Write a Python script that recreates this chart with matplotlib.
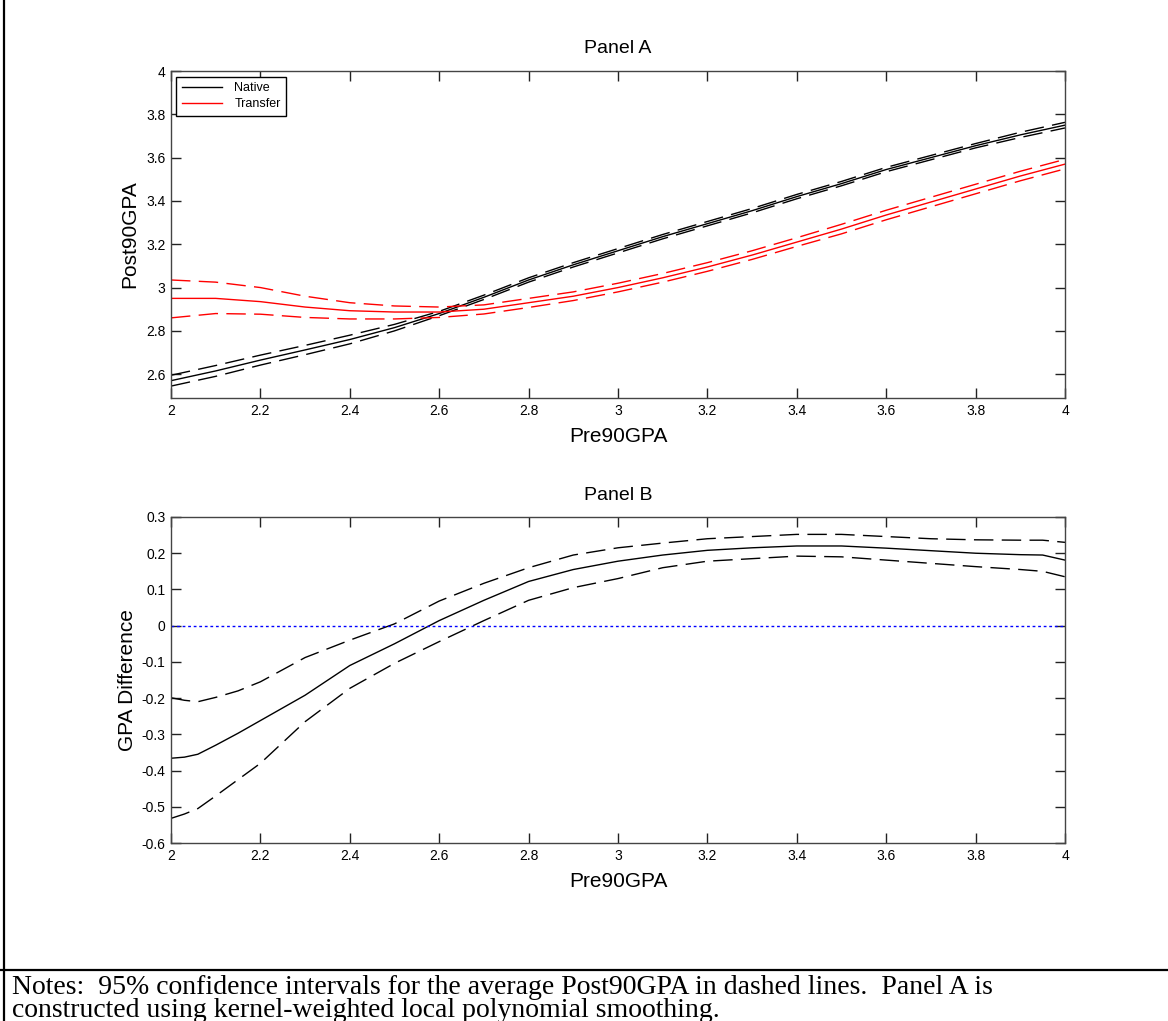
import matplotlib
matplotlib.use("Agg")
import matplotlib.pyplot as plt
from matplotlib.lines import Line2D

# ---------------- data ----------------
xa = [2.0, 2.1, 2.2, 2.3, 2.4, 2.5, 2.6, 2.7, 2.8, 2.9, 3.0,
      3.1, 3.2, 3.3, 3.4, 3.5, 3.6, 3.7, 3.8, 3.9, 4.0]
native_mid = [2.570, 2.615, 2.665, 2.712, 2.760, 2.815, 2.880, 2.955, 3.035, 3.105, 3.170,
              3.235, 3.295, 3.355, 3.420, 3.480, 3.545, 3.600, 3.655, 3.705, 3.750]
native_hi = [2.595, 2.640, 2.688, 2.733, 2.780, 2.830, 2.890, 2.965, 3.045, 3.115, 3.180,
             3.245, 3.305, 3.365, 3.430, 3.490, 3.555, 3.610, 3.665, 3.717, 3.763]
native_lo = [2.545, 2.590, 2.642, 2.690, 2.740, 2.800, 2.870, 2.945, 3.025, 3.095, 3.160,
             3.225, 3.285, 3.345, 3.410, 3.470, 3.535, 3.590, 3.645, 3.693, 3.737]
transfer_mid = [2.950, 2.950, 2.935, 2.910, 2.893, 2.887, 2.887, 2.900, 2.930, 2.960, 3.000,
                3.045, 3.095, 3.150, 3.210, 3.270, 3.335, 3.395, 3.455, 3.515, 3.570]
transfer_hi = [3.035, 3.025, 3.000, 2.960, 2.930, 2.915, 2.910, 2.920, 2.950, 2.980, 3.020,
               3.065, 3.115, 3.170, 3.230, 3.292, 3.357, 3.417, 3.477, 3.537, 3.592]
transfer_lo = [2.860, 2.880, 2.877, 2.862, 2.855, 2.855, 2.862, 2.878, 2.908, 2.940, 2.980,
               3.025, 3.075, 3.130, 3.190, 3.248, 3.313, 3.373, 3.433, 3.493, 3.548]

xb = [2.0, 2.03, 2.06, 2.1, 2.15, 2.2, 2.3, 2.4, 2.5, 2.6, 2.7, 2.8, 2.9, 3.0,
      3.1, 3.2, 3.3, 3.4, 3.5, 3.6, 3.7, 3.8, 3.9, 3.95, 4.0]
diff_mid = [-0.366, -0.363, -0.355, -0.330, -0.297, -0.262, -0.192, -0.110, -0.050, 0.014, 0.070,
            0.122, 0.155, 0.178, 0.195, 0.208, 0.215, 0.220, 0.220, 0.214, 0.207, 0.200, 0.196,
            0.195, 0.181]
diff_hi = [-0.199, -0.206, -0.210, -0.198, -0.180, -0.155, -0.088, -0.040, 0.005, 0.068, 0.117,
           0.160, 0.195, 0.215, 0.228, 0.240, 0.246, 0.252, 0.252, 0.246, 0.240, 0.237, 0.236,
           0.236, 0.230]
diff_lo = [-0.532, -0.520, -0.505, -0.470, -0.425, -0.380, -0.265, -0.173, -0.104, -0.044, 0.014,
           0.070, 0.105, 0.130, 0.160, 0.178, 0.185, 0.192, 0.190, 0.181, 0.172, 0.163, 0.155,
           0.150, 0.135]

xticks = [2, 2.2, 2.4, 2.6, 2.8, 3, 3.2, 3.4, 3.6, 3.8, 4]
xticklabels = ["2", "2.2", "2.4", "2.6", "2.8", "3", "3.2", "3.4", "3.6", "3.8", "4"]
yticks_a = [2.6, 2.8, 3.0, 3.2, 3.4, 3.6, 3.8, 4.0]
yticklabels_a = ["2.6", "2.8", "3", "3.2", "3.4", "3.6", "3.8", "4"]
yticks_b = [-0.6, -0.5, -0.4, -0.3, -0.2, -0.1, 0, 0.1, 0.2, 0.3]
yticklabels_b = ["-0.6", "-0.5", "-0.4", "-0.3", "-0.2", "-0.1", "0", "0.1", "0.2", "0.3"]

notes = ["Notes:  95% confidence intervals for the average Post90GPA in dashed lines.  Panel A is",
         "constructed using kernel-weighted local polynomial smoothing."]

# ---------------- figure ----------------
plt.rcParams['font.family'] = ['Liberation Sans', 'DejaVu Sans']
W, H = 1168, 1021
fig = plt.figure(figsize=(W / 100, H / 100), dpi=100)

def px_axes(left, top, right, bottom):
    return fig.add_axes([left / W, 1 - bottom / H, (right - left) / W, (bottom - top) / H])

axA = px_axes(171, 71, 1065, 398)
axB = px_axes(171, 517, 1065, 843)

DASH = (0, (14, 6))
LW = 1.0

axA.plot(xa, native_mid, color='black', lw=LW)
axA.plot(xa, native_hi, color='black', lw=LW, linestyle=DASH)
axA.plot(xa, native_lo, color='black', lw=LW, linestyle=DASH)
axA.plot(xa, transfer_mid, color='red', lw=LW)
axA.plot(xa, transfer_hi, color='red', lw=LW, linestyle=DASH)
axA.plot(xa, transfer_lo, color='red', lw=LW, linestyle=DASH)
axA.set_xlim(2, 4)
axA.set_ylim(2.49, 4)
axA.set_yticks(yticks_a)
axA.set_yticklabels(yticklabels_a)

axB.plot(xb, diff_mid, color='black', lw=LW)
axB.plot(xb, diff_hi, color='black', lw=LW, linestyle=DASH)
axB.plot(xb, diff_lo, color='black', lw=LW, linestyle=DASH)
axB.plot([2, 4], [0, 0], color='blue', lw=1.0, linestyle=(0, (2, 2)))
axB.set_xlim(2, 4)
axB.set_ylim(-0.6, 0.3)
axB.set_yticks(yticks_b)
axB.set_yticklabels(yticklabels_b)

for ax in (axA, axB):
    ax.set_xticks(xticks)
    ax.set_xticklabels(xticklabels)
    ax.tick_params(direction='in', length=7, width=1, top=True, right=True,
                   labelsize=10, color='#222222', labelcolor='black', pad=4)
    for s in ax.spines.values():
        s.set_color('#444444')
        s.set_linewidth(1.0)
    ax.set_xlabel('Pre90GPA', fontsize=15, labelpad=7)

axA.set_ylabel('Post90GPA', fontsize=15, labelpad=5)
axB.set_ylabel('GPA Difference', fontsize=15, labelpad=3)
axA.set_title('Panel A', fontsize=14, pad=13)
axB.set_title('Panel B', fontsize=14, pad=12)

handles = [Line2D([], [], color='black', lw=1), Line2D([], [], color='red', lw=1)]
leg = axA.legend(handles, ['Native', 'Transfer'], loc='upper left', fontsize=9,
                 fancybox=False, framealpha=1, edgecolor='black', borderpad=0.45,
                 handlelength=3.2, handletextpad=1.0, labelspacing=0.3,
                 bbox_to_anchor=(0.006, 0.983), borderaxespad=0)
leg.get_frame().set_linewidth(1.0)

# border lines
fig.add_artist(Line2D([4 / W, 4 / W], [0, 1], color='black', lw=1.6, transform=fig.transFigure))
fig.add_artist(Line2D([0, 1], [1 - 970 / H, 1 - 970 / H], color='black', lw=1.6,
                      transform=fig.transFigure))

fig.text(12 / W, 1 - 975 / H, "\n".join(notes), fontsize=20, family='Liberation Serif',
         va='top', ha='left', linespacing=0.9)

fig.savefig('out.png', dpi=100)
